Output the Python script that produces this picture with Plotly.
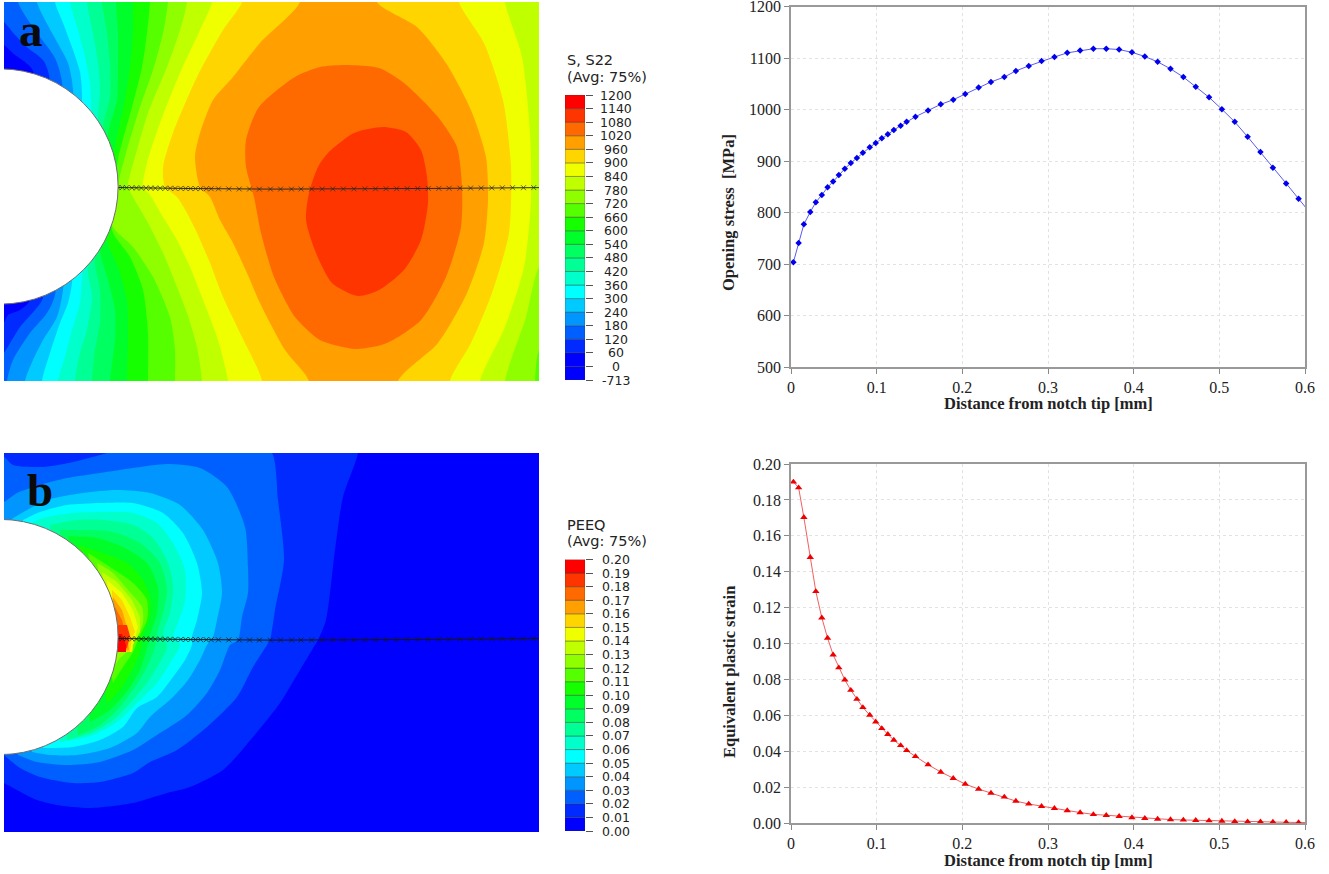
import plotly.graph_objects as go

W, H = 1329, 874

# ---------- line chart data ----------
distance = [.0028,.0089,.015,.0225,.029,.036,.0427,.0492,.0558,.0628,.0698,.0769,.0839,.0919,.0989,.106,.113,.12,.128,.135,
            .1453,.16,.1748,.1894,.2034,.219,.2334,.249,.2625,.2775,.2925,.3075,.3225,.3375,.353,.368,.383,.398,.413,.428,
            .443,.458,.4725,.488,.503,.518,.533,.548,.5625,.578,.5925,.6075]
opening_stress = [703.5,741,777,801,820,834,849,860,873,885,896,906,916,926.5,935,944,952,960,968.6,976,
                  986,998,1010,1019,1030,1042.5,1053.5,1063,1075,1084.6,1094,1102,1110,1114.5,1118,1118,1116.5,1111,1103,1092.5,
                  1079,1063,1044,1023.7,1000.4,976,947,917.4,887,856.5,826.7,796]
plastic_strain = [.19,.1868,.1703,.148,.129,.1143,.103,.0937,.0865,.0798,.074,.069,.0644,.0601,.0564,.0527,.0494,.0462,.0432,.0404,
                  .0371,.0325,.0284,.0249,.0217,.0189,.0167,.0145,.0122,.0106,.0093,.0082,.0069,.0058,.0048,.0043,.0037,.003,.0026,.0022,
                  .0019,.0017,.0015,.0013,.0011,.0009,.0007,.0007,.0006,.0004,.0003,.0003]
path_y_a = [187.5,187.6,187.7,187.8,187.9,188,188,188.1,188.2,188.2,188.3,188.3,188.4,188.4,188.5,188.5,188.6,188.6,188.7,188.7,
            188.8,188.9,189,189,189.1,189.1,189.1,189.1,189,189,189,188.9,188.9,188.9,188.8,188.8,188.7,188.7,188.6,188.5,
            188.4,188.4,188.3,188.2,188.1,188,187.9,187.8,187.7,187.7,187.6,187.6]
path_y_b = [v + 451 for v in path_y_a]

# ---------- legends ----------
band_colors = ["#0000FF","#002AFF","#0060FF","#0095FF","#00CAFF","#00FFFF","#00FFCA","#00FF95","#00FF60","#00FF2A",
               "#15FF00","#55FF00","#8FFF00","#BFFF00","#F0FF00","#FFD500","#FFA000","#FF6A00","#FF3500","#FF0000"]
s22_labels = ["-713","0","60","120","180","240","300","360","420","480","540","600","660","720","780","840","900","960","1020","1080","1140","1200"]
peeq_labels = ["0.00","0.01","0.02","0.03","0.04","0.05","0.06","0.07","0.08","0.09","0.10","0.11","0.12","0.13","0.14","0.15","0.16","0.17","0.18","0.19","0.20"]

# ---------- panel a contours, read in image units (left boundary above / below the notch, right boundary) ----------
a_up = {
 1: [(-20,30),(4,45),(15,55),(25,62),(33,71)],
 2: [(-20,5),(4,22),(15,35),(28,48),(43,60),(49,75)],
 3: [(18,2),(28,20),(40,37),(55,58),(62,82)],
 4: [(37,2),(45,20),(57,42),(68,63),(73,90)],
 5: [(55,2),(63,23),(73,50),(80,72),(82,95)],
 6: [(70,2),(78,30),(85,57),(90,83),(91,107)],
 7: [(87,2),(93,33),(98,63),(100,90),(98,115)],
 8: [(102,2),(107,33),(110,63),(110,97),(103,127)],
 9: [(116,2),(118,33),(118,67),(117,100),(108,133)],
 10: [(133,2),(133,33),(130,67),(125,100),(115,147)],
 11: [(150,2),(147,33),(142,67),(132,107),(118,160)],
 12: [(168,2),(163,33),(153,70),(140,107),(126,153),(119,180)],
 13: [(187,2),(180,30),(167,67),(148,113),(137,150),(128,187)],
 14: [(212,2),(200,30),(180,73),(160,123),(147,163),(143,187)],
 15: [(242,2),(223,30),(197,77),(173,133),(163,167),(165,187)],
 16: [(300,2),(260,43),(233,77),(213,100),(200,133),(195,157),(200,187)],
}
a_low = {
 1: [(30,300),(20,310),(8,315),(4,322),(-20,335)],
 2: [(43,298),(35,310),(20,327),(4,353),(-20,385)],
 3: [(55,295),(47,313),(30,333),(13,360),(7,381)],
 4: [(63,290),(57,317),(43,340),(33,360),(25,381)],
 5: [(72,283),(68,303),(60,323),(50,353),(42,381)],
 6: [(82,278),(80,303),(72,330),(65,357),(58,381)],
 7: [(88,272),(92,297),(87,330),(80,353),(75,381)],
 8: [(95,262),(100,290),(100,323),(95,350),(92,381)],
 9: [(100,250),(108,280),(115,310),(115,340),(110,381)],
 10: [(107,240),(118,267),(127,300),(128,340),(127,381)],
 11: [(112,230),(130,257),(143,290),(148,333),(148,381)],
 12: [(112,225),(133,247),(153,277),(170,317),(175,350),(175,381)],
 13: [(133,197),(148,223),(163,253),(173,277),(187,313),(197,347),(202,381)],
 14: [(150,195),(163,217),(177,240),(190,267),(203,300),(217,337),(228,381)],
 15: [(177,197),(187,213),(197,233),(210,263),(223,297),(240,333),(262,381)],
 16: [(210,197),(220,220),(233,243),(247,273),(260,303),(285,350),(309,381)],
}
a_right = {
 12: [(535,381),(539,350)],
 13: [(505,381),(526,317),(539,267)],
 14: [(480,381),(505,327),(524,267),(531,200),(530,133),(522,57),(505,2)],
 15: [(450,381),(471,343),(492,293),(509,233),(511,167),(503,100),(484,43),(459,2)],
 16: [(398,381),(438,343),(467,293),(484,243),(488,200),(486,157),(471,110),(446,63),(417,27),(377,2)],
}
a_closed = {
 17: [(345,65),(379,68),(404,83),(438,117),(457,147),(462,187),(461,227),(446,277),(421,320),(387,343),(356,349),(320,340),
      (295,317),(274,277),(261,233),(254,197),(246,167),(246,140),(259,107),(295,77),(320,67)],
 18: [(383,127),(406,132),(421,150),(427,177),(428,203),(421,240),(404,270),(379,290),(358,296),(332,283),(316,253),(306,220),
      (309,193),(318,167),(328,153),(354,133)],
}

# ---------- panel b contours, read in image units ----------
b_up = {
 1: [(358,453),(343,497),(335,550),(326,620),(318,640)],
 2: [(-20,450),(4,457),(13,465),(43,467),(73,462),(107,453),(150,440),(250,440),(272,453),(278,500),(284,560),(275,610),(270,640)],
 3: [(-20,510),(4,502),(17,493),(40,485),(67,478),(100,473),(133,468),(167,464),(200,468),(227,487),(245,527),(248,567),(248,593),(242,617),(238,640)],
 4: [(10,520),(27,510),(47,500),(83,493),(117,490),(150,493),(180,505),(203,530),(218,563),(222,593),(217,620),(213,637)],
 5: [(23,520),(40,512),(67,505),(100,503),(133,503),(163,513),(183,533),(197,563),(202,593),(197,620),(192,637)],
 6: [(33,522),(43,518),(73,513),(107,512),(133,513),(157,523),(173,543),(185,570),(185,600),(178,623),(173,637)],
 7: [(50,525),(77,520),(103,520),(133,525),(153,538),(168,563),(173,587),(170,613),(163,633)],
 8: [(60,530),(87,530),(113,532),(140,543),(160,563),(167,590),(163,613),(157,633)],
 9: [(68,536),(97,538),(123,547),(147,563),(158,587),(157,613),(150,635)],
 10: [(78,545),(103,553),(127,563),(143,580),(150,597),(150,617),(143,635)],
 11: [(88,553),(110,567),(133,583),(147,600),(147,620),(140,635)],
 12: [(97,563),(113,573),(128,590),(142,607),(143,623),(137,637)],
 13: [(102,572),(117,582),(132,600),(140,617),(140,632)],
 14: [(107,580),(122,593),(133,610),(138,627),(135,638)],
 15: [(112,590),(122,600),(130,617),(135,632),(132,638)],
 16: [(113,597),(122,610),(127,627),(128,637)],
 17: [(115,607),(122,620),(125,632)],
}
b_low = {
 1: [(315,645),(300,670),(280,703),(253,737),(223,770),(190,787),(167,793),(133,803),(90,808),(57,805),(37,800),(17,790),(4,783),(-20,770)],
 2: [(267,645),(253,667),(237,697),(207,727),(177,750),(150,762),(133,773),(100,782),(73,783),(40,777),(20,768),(4,755)],
 3: [(230,645),(220,670),(207,693),(187,715),(157,735),(133,750),(100,762),(67,765),(37,762),(18,755)],
 4: [(207,645),(200,660),(188,680),(173,697),(150,717),(137,733),(110,748),(77,755),(50,755),(32,752)],
 5: [(192,645),(185,660),(173,677),(157,697),(137,708),(123,727),(100,740),(73,747),(43,748)],
 6: [(180,645),(170,663),(157,683),(137,703),(117,722),(93,735),(60,742)],
 7: [(167,647),(160,662),(147,683),(130,703),(113,720),(93,732),(67,740)],
 8: [(155,647),(147,667),(135,687),(117,710),(97,727),(78,735)],
 9: [(147,648),(140,670),(128,690),(110,710),(90,722)],
 10: [(140,652),(132,670),(120,690),(107,703)],
 11: [(133,652),(123,667),(113,683)],
 12: [(127,652),(120,658),(115,665)],
 13: [(133,645),(132,652),(112,652)],
 14: [(133,645),(132,652),(112,652)],
 15: [(131,645),(130,652),(112,652)],
 16: [(129,650),(112,652)],
 17: [(128,642),(126,650),(112,650)],
}
b_block_18 = [(112,625),(127,625),(130,636),(127,648),(112,650)]
b_block_19 = [(112,634),(122,634),(126,645),(126,652),(112,652)]

# ---------- figure ----------
fig = go.Figure()


def xp(x):
    return x / W


def yp(y):
    return 1 - y / H


def dom_x(a, b):
    return [xp(a), xp(b)]


def dom_y(top, bot):
    return [yp(bot), yp(top)]


def axes(n, xd, yd, xr, yr):
    fig.layout[f"xaxis{n}"] = dict(domain=dom_x(*xd), range=xr, anchor=f"y{n}", visible=False, fixedrange=True)
    fig.layout[f"yaxis{n}"] = dict(domain=dom_y(*yd), range=yr, anchor=f"x{n}", visible=False, fixedrange=True)


def poly(n, pts, color, smooth=True):
    fig.add_trace(go.Scatter(x=[p[0] for p in pts], y=[p[1] for p in pts], mode="lines", fill="toself", fillcolor=color,
                             line=dict(width=0, color=color, shape="spline" if smooth else "linear", smoothing=0.7),
                             hoverinfo="skip", showlegend=False, xaxis=f"x{n}", yaxis=f"y{n}"))


def hole(n, cy):
    fig.add_shape(type="circle", xref=f"x{n}", yref=f"y{n}", x0=0.5 - 117.6, x1=0.5 + 117.6, y0=cy - 117.6, y1=cy + 117.6,
                  fillcolor="white", line=dict(color="#6e6e6e", width=1), layer="above")


def path(n, ys, dark):
    fig.add_trace(go.Scatter(x=[116 + 705 * d for d in distance], y=ys, mode="lines+markers",
                             line=dict(color=dark, width=1),
                             marker=dict(symbol="x-thin", size=5, line=dict(color=dark, width=0.7)),
                             hoverinfo="skip", showlegend=False, xaxis=f"x{n}", yaxis=f"y{n}"))


# Panel a
axes(1, (4, 539), (2, 381), [4, 539], [381, 2])
poly(1, [(0, 0), (600, 0), (600, 400), (0, 400)], band_colors[0], False)
for k in range(1, 17):
    up = a_up[k]
    low = a_low[k]
    pts = [(up[0][0], -30)] + up + low + [(low[-1][0], 420)]
    if k in a_right:
        r = a_right[k]
        pts += [(r[0][0], 420)] + r + [(r[-1][0], -30)] if k >= 14 else [(r[0][0], 420)] + r + [(560, r[-1][1] - 20), (700, -30)]
    else:
        pts += [(700, 420), (700, -30)]
    poly(1, pts, band_colors[k])
for k in (17, 18):
    poly(1, a_closed[k] + [a_closed[k][0]], band_colors[k])
path(1, path_y_a, "#2a2a2a")
hole(1, 186.5)

# Panel b
axes(2, (4, 539), (453, 832), [4, 539], [832, 453])
poly(2, [(0, 440), (600, 440), (600, 850), (0, 850)], band_colors[0], False)
for k in range(1, 18):
    up = b_up[k]
    low = b_low[k]
    if k == 1:
        pts = [(-20, 430), (358, 430)] + up + low
    else:
        pts = up + low
    poly(2, pts, band_colors[k], k <= 12)
poly(2, b_block_18, band_colors[18], False)
poly(2, b_block_19, band_colors[19], False)
path(2, path_y_b, "#151515")
hole(2, 637)


# Legends
def legend(n, yd, colors, labels, titles, title_ys):
    m = len(labels) - 1
    axes(n, (565, 585), yd, [0, 1], [0, m])
    fig.layout[f"yaxis{n}"].update(visible=True, side="right", showgrid=False, zeroline=False, tickvals=list(range(m + 1)),
                                   ticks="outside", ticklen=7, tickcolor="#555", tickwidth=1, showticklabels=False,
                                   showline=False)
    fig.add_trace(go.Bar(x=[0.5] * m, y=[1] * m, base=list(range(m)), width=1, marker=dict(color=colors, line=dict(color="rgba(50,50,50,0.55)", width=0.7)),
                         hoverinfo="skip", showlegend=False, xaxis=f"x{n}", yaxis=f"y{n}"))
    for i, t in enumerate(labels):
        fig.add_annotation(x=xp(616), xref="paper", y=i, yref=f"y{n}", text=t, showarrow=False, xanchor="center", yanchor="middle",
                           font=dict(family="DejaVu Sans", size=12.5, color="#222"))
    for t, y in zip(titles, title_ys):
        fig.add_annotation(x=xp(565), xref="paper", y=yp(y), yref="paper", text=t, showarrow=False, xanchor="left", yanchor="middle",
                           font=dict(family="DejaVu Sans", size=14.5, color="#222"))


legend(3, (95, 380), [band_colors[0]] + band_colors, s22_labels, ["S, S22", "(Avg: 75%)"], [60, 77])
legend(4, (559.5, 831), band_colors, peeq_labels, ["PEEQ", "(Avg: 75%)"], [525, 541])


# Line charts
def chart(n, yd, yr, ytv, ytt, ys, color, lcolor, sym, msize, ytitle, ty, xty):
    serif = "Liberation Serif"
    ax = dict(showline=True, linecolor="#999", linewidth=1.5, mirror=True, ticks="outside", ticklen=5, tickcolor="#888",
              showgrid=True, gridcolor="#e2e2e2", griddash="3px,3px", gridwidth=1, zeroline=False, fixedrange=True,
              ticklabeloverflow="allow", tickfont=dict(family=serif, size=16, color="#222"))
    fig.layout[f"xaxis{n}"] = dict(domain=dom_x(791, 1305), range=[0, 0.6], anchor=f"y{n}", tickvals=[0, .1, .2, .3, .4, .5, .6],
                                   ticktext=["0", "0.1", "0.2", "0.3", "0.4", "0.5", "0.6"], **ax)
    fig.layout[f"yaxis{n}"] = dict(domain=dom_y(*yd), range=yr, anchor=f"x{n}", tickvals=ytv, ticktext=ytt, **ax)
    fig.add_trace(go.Scatter(x=distance, y=ys, mode="lines+markers", line=dict(color=lcolor, width=1),
                             marker=dict(symbol=sym, size=msize, color=color), showlegend=False, xaxis=f"x{n}", yaxis=f"y{n}"))
    fig.add_annotation(x=xp(729), xref="paper", y=yp(ty), yref="paper", text=f"<b>{ytitle}</b>", textangle=-90, showarrow=False,
                       xanchor="center", yanchor="middle", font=dict(family=serif, size=16.5, color="#222"))
    fig.add_annotation(x=xp(1048), xref="paper", y=yp(xty), yref="paper", text="<b>Distance from notch tip [mm]</b>", showarrow=False,
                       xanchor="center", yanchor="middle", font=dict(family=serif, size=16.5, color="#222"))


chart(5, (6.5, 367), [500, 1200], list(range(500, 1201, 100)), [str(v) for v in range(500, 1201, 100)], opening_stress,
      "#0000EE", "#5a5af0", "diamond", 5, "Opening\u00a0stress\u00a0\u00a0[MPa]", 213, 403)
chart(6, (464, 823), [0, 0.2], [0, .02, .04, .06, .08, .1, .12, .14, .16, .18, .2],
      ["0.00", "0.02", "0.04", "0.06", "0.08", "0.10", "0.12", "0.14", "0.16", "0.18", "0.20"], plastic_strain,
      "#EE0000", "#f06060", "triangle-up", 6.5, "Equivalent\u00a0plastic\u00a0strain", 672, 860)

for t, x, y in (("a", 31, 30), ("b", 40, 490)):
    fig.add_annotation(x=xp(x), xref="paper", y=yp(y), yref="paper", text=f"<b>{t}</b>", showarrow=False, xanchor="center", yanchor="middle",
                       font=dict(family="Liberation Serif", size=47, color="#0a0a0a"))

fig.update_layout(width=W, height=H, margin=dict(l=0, r=0, t=0, b=0, pad=0, autoexpand=False), paper_bgcolor="white", plot_bgcolor="white",
                  barmode="overlay", showlegend=False)
fig.write_html("out.html", config={"displayModeBar": False},
               post_script="document.body.style.margin='0';document.documentElement.style.overflow='hidden';")
